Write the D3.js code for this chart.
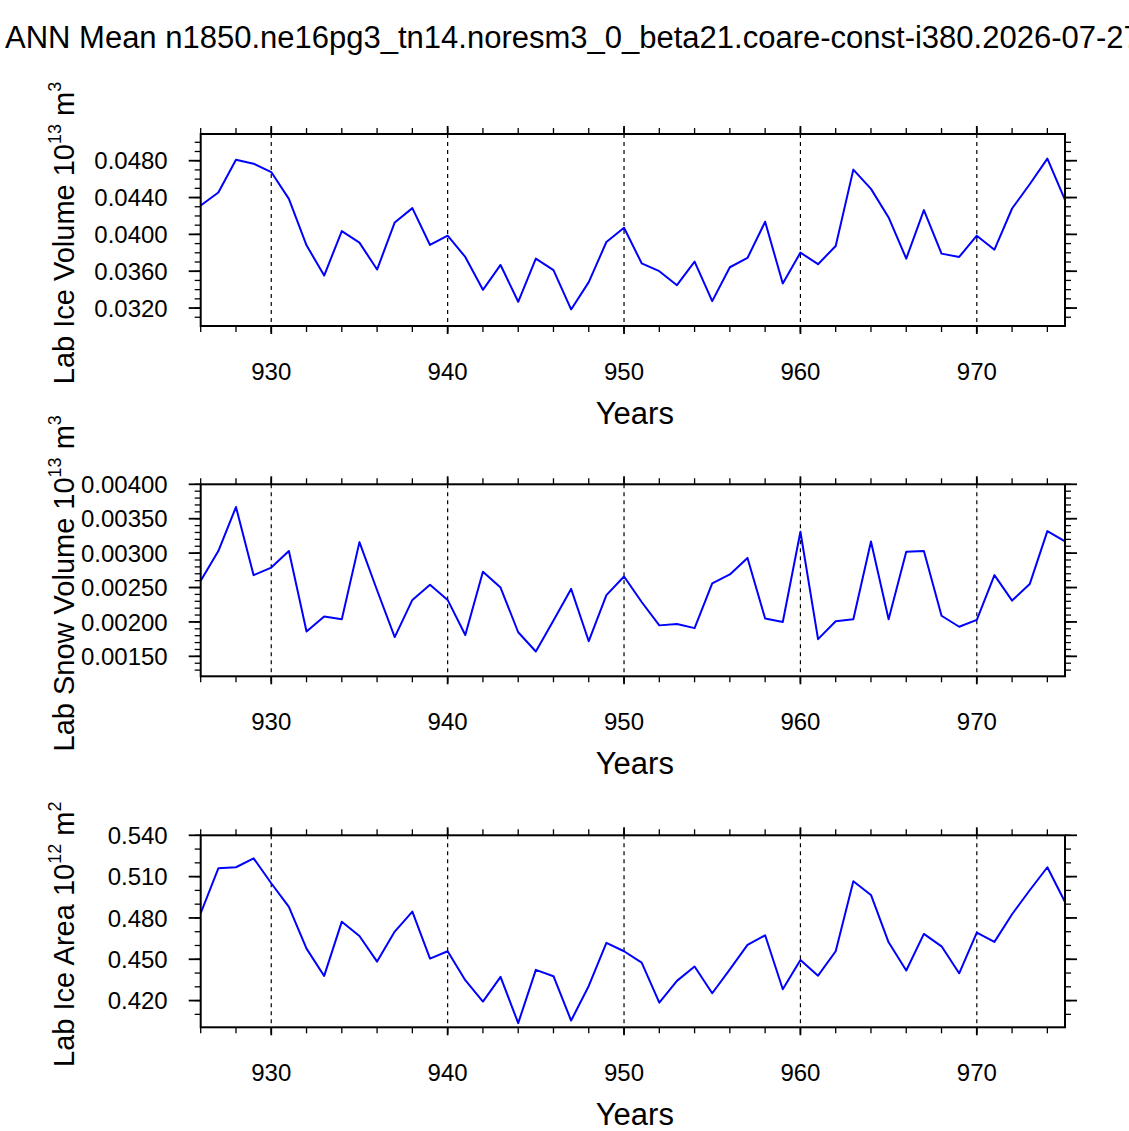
<!DOCTYPE html>
<html lang="en">
<head>
<meta charset="UTF-8">
<title>Lab ice</title>
<script src="https://d3js.org/d3.v7.min.js"></script>
<style>
  body { margin: 0; background: #fff; }
  svg { font-family: "Liberation Sans", Arial, sans-serif; }
</style>
</head>
<body>
<svg id="chart" width="1129" height="1131"></svg>
<script>
const years = d3.range(926, 976);

const iceVolume = [0.04313, 0.04454, 0.04811, 0.04768, 0.04677, 0.04386, 0.03881, 0.03553, 0.04036, 0.03910,
  0.03618, 0.04130, 0.04285, 0.03885, 0.03986, 0.03755, 0.03398, 0.03668, 0.03268, 0.03737,
  0.03611, 0.03185, 0.03481, 0.03917, 0.04072, 0.03686, 0.03600, 0.03448, 0.03704, 0.03275,
  0.03643, 0.03744, 0.04137, 0.03467, 0.03802, 0.03676, 0.03874, 0.04703, 0.04494, 0.04184,
  0.03737, 0.04263, 0.03791, 0.03755, 0.03986, 0.03834, 0.04281, 0.04544, 0.04822, 0.04375];

const snowVolume = [0.00260, 0.00303, 0.00367, 0.00268, 0.00279, 0.00303, 0.00186, 0.00208, 0.00204, 0.00316,
  0.00246, 0.00178, 0.00232, 0.00254, 0.00232, 0.00181, 0.00273, 0.00250, 0.00185, 0.00157,
  0.00202, 0.00248, 0.00172, 0.00239, 0.00266, 0.00229, 0.00195, 0.00197, 0.00191, 0.00256,
  0.00269, 0.00293, 0.00205, 0.00200, 0.00331, 0.00175, 0.00201, 0.00204, 0.00317, 0.00204,
  0.00302, 0.00303, 0.00209, 0.00193, 0.00203, 0.00268, 0.00231, 0.00255, 0.00332, 0.00317];

const iceArea = [0.4834, 0.5160, 0.5168, 0.5233, 0.5052, 0.4880, 0.4577, 0.4379, 0.4773, 0.4669,
  0.4483, 0.4701, 0.4846, 0.4505, 0.4558, 0.4348, 0.4193, 0.4372, 0.4036, 0.4423,
  0.4377, 0.4055, 0.4306, 0.4619, 0.4558, 0.4476, 0.4185, 0.4343, 0.4447, 0.4253,
  0.4427, 0.4604, 0.4674, 0.4282, 0.4495, 0.4381, 0.4558, 0.5066, 0.4967, 0.4623,
  0.4418, 0.4684, 0.4594, 0.4398, 0.4694, 0.4626, 0.4827, 0.5001, 0.5168, 0.4916];

const panels = [
  { values: iceVolume, domain: [0.03005, 0.0509], major: 0.004, minor: 0.001, fmt: ".4f",
    label: ["Lab Ice Volume 10", "13", " m", "3"], top: 134 },
  { values: snowVolume, domain: [0.00121, 0.004], major: 0.0005, minor: 0.0001, fmt: ".5f",
    label: ["Lab Snow Volume 10", "13", " m", "3"], top: 484.3 },
  { values: iceArea, domain: [0.4006, 0.54], major: 0.03, minor: 0.01, fmt: ".3f",
    label: ["Lab Ice Area 10", "12", " m", "2"], top: 835.3 }
];

const left = 200.7, right = 1065, ph = 192;
const svg = d3.select("#chart");

svg.append("text").attr("x", 5).attr("y", 48)
  .attr("font-size", 31)
  .text("ANN Mean n1850.ne16pg3_tn14.noresm3_0_beta21.coare-const-i380.2026-07-27");

const x = d3.scaleLinear().domain([926, 975]).range([left, right]);

function ticks(lo, hi, step) {
  const out = [];
  for (let v = Math.ceil(lo / step - 1e-6) * step; v <= hi + 1e-9; v += step) out.push(+v.toFixed(8));
  return out;
}

panels.forEach(p => {
  const top = p.top, bottom = top + ph;
  const y = d3.scaleLinear().domain(p.domain).range([bottom, top]);
  const g = svg.append("g");

  // dashed grid
  g.selectAll(".grid").data([930, 940, 950, 960, 970]).join("line")
    .attr("x1", d => x(d)).attr("x2", d => x(d))
    .attr("y1", top).attr("y2", bottom)
    .attr("stroke", "#000").attr("stroke-width", 1.2).attr("stroke-dasharray", "4,4");

  // x ticks (outward, top and bottom)
  const xMin = ticks(926, 975, 2), xMaj = ticks(926, 975, 10);
  [[xMin, 6, 1.3], [xMaj, 8, 1.8]].forEach(([vals, len, w]) => {
    g.selectAll(null).data(vals).join("line")
      .attr("x1", d => x(d)).attr("x2", d => x(d)).attr("y1", bottom).attr("y2", bottom + len)
      .attr("stroke", "#000").attr("stroke-width", w);
    g.selectAll(null).data(vals).join("line")
      .attr("x1", d => x(d)).attr("x2", d => x(d)).attr("y1", top).attr("y2", top - len)
      .attr("stroke", "#000").attr("stroke-width", w);
  });

  // y ticks (outward, left and right)
  const yMin = ticks(p.domain[0], p.domain[1], p.minor), yMaj = ticks(p.domain[0], p.domain[1], p.major);
  [[yMin, 6, 1.3], [yMaj, 12, 1.8]].forEach(([vals, len, w]) => {
    g.selectAll(null).data(vals).join("line")
      .attr("x1", left).attr("x2", left - len).attr("y1", d => y(d)).attr("y2", d => y(d))
      .attr("stroke", "#000").attr("stroke-width", w);
    g.selectAll(null).data(vals).join("line")
      .attr("x1", right).attr("x2", right + len).attr("y1", d => y(d)).attr("y2", d => y(d))
      .attr("stroke", "#000").attr("stroke-width", w);
  });

  // tick labels
  g.selectAll(null).data(yMaj).join("text")
    .attr("x", left - 33).attr("y", d => y(d)).attr("dy", "0.36em")
    .attr("text-anchor", "end").attr("font-size", 24)
    .text(d => d3.format(p.fmt)(d));
  g.selectAll(null).data(xMaj).join("text")
    .attr("x", d => x(d)).attr("y", bottom + 54)
    .attr("text-anchor", "middle").attr("font-size", 24)
    .text(d => d);

  // line
  g.append("path")
    .datum(p.values)
    .attr("fill", "none").attr("stroke", "#0000ff").attr("stroke-width", 2)
    .attr("stroke-linejoin", "round")
    .attr("d", d3.line().x((d, i) => x(years[i])).y(d => y(d)));

  // frame
  g.append("rect").attr("x", left).attr("y", top).attr("width", right - left).attr("height", ph)
    .attr("fill", "none").attr("stroke", "#000").attr("stroke-width", 2);

  // axis titles
  g.append("text").attr("x", (left + right) / 2 + 2).attr("y", bottom + 98)
    .attr("text-anchor", "middle").attr("font-size", 31).text("Years");

  const t = g.append("text")
    .attr("transform", `translate(74,${(top + bottom) / 2 + 3}) rotate(-90)`)
    .attr("text-anchor", "middle").attr("font-size", 29);
  t.append("tspan").text(p.label[0]);
  t.append("tspan").attr("dy", -13).attr("font-size", 18).text(p.label[1]);
  t.append("tspan").attr("dy", 13).text(p.label[2]);
  t.append("tspan").attr("dy", -13).attr("font-size", 18).text(p.label[3]);
});
</script>
</body>
</html>
